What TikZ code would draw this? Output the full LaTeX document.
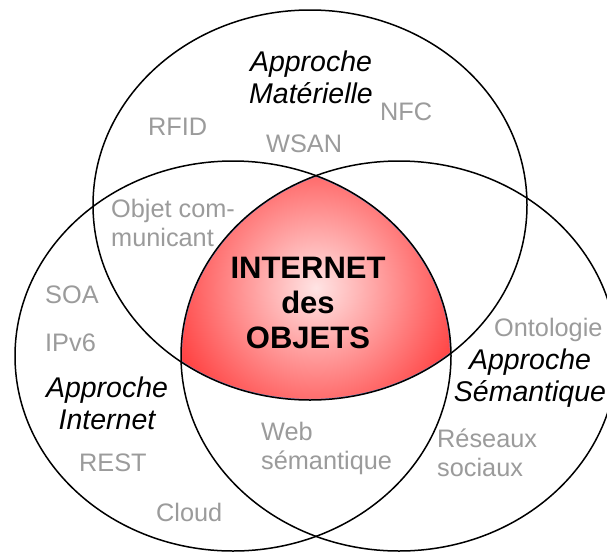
\documentclass[tikz,border=0pt]{standalone}
\usepackage{fontspec}
\setmainfont{Liberation Sans}
\definecolor{lbl}{RGB}{155,155,155}
\definecolor{iotred}{RGB}{255,8,8}
\definecolor{iotpink}{RGB}{255,228,228}
\definecolor{rimblue}{RGB}{120,145,205}
\begin{document}
\begin{tikzpicture}[x=1pt,y=-1pt,
  ring/.style={draw=black,line width=1.5pt},
  tech/.style={text=lbl,font=\fontsize{25.3}{28.5}\selectfont,inner sep=0pt,align=left},
  approach/.style={text=black,font=\fontsize{28.5}{31.5}\selectfont\itshape,inner sep=0pt,align=center},
  core/.style={text=black,font=\fontsize{31}{35}\selectfont\bfseries,inner sep=0pt,align=center}]
\useasboundingbox (0,0) rectangle (607,552);
\fill[white] (0,0) rectangle (607,552);
% central intersection
\begin{scope}
  \clip (310,205) ellipse [x radius=217pt, y radius=195pt];
  \clip (233,356) ellipse [x radius=218pt, y radius=195pt];
  \clip (399,356) ellipse [x radius=218pt, y radius=195pt];
  \fill[iotred] (150,150) rectangle (470,420);
  \shade[inner color=iotpink, outer color=iotred] (316,288) circle [radius=205pt];
  \draw[rimblue,line width=2.1pt] (310,205) ellipse [x radius=217pt, y radius=195pt];
  \draw[rimblue,line width=2.1pt] (233,356) ellipse [x radius=218pt, y radius=195pt];
  \draw[rimblue,line width=2.1pt] (399,356) ellipse [x radius=218pt, y radius=195pt];
\end{scope}
% the three approaches
\draw[ring] (310,205) ellipse [x radius=217pt, y radius=195pt];
\draw[ring] (233,356) ellipse [x radius=218pt, y radius=195pt];
\draw[ring] (399,356) ellipse [x radius=218pt, y radius=195pt];
% titles (base = baseline of last line)
\node[approach,anchor=base] (mat) at (311,103) {Approche\\Matérielle};
\node[approach,anchor=base] (int) at (107,429) {Approche\\Internet};
\node[approach,anchor=base] (sem) at (530,401) {Approche\\Sémantique};
\node[core,anchor=base] (iot) at (308,348) {INTERNET\\des\\OBJETS};
% technologies
\node[tech,anchor=base west] (nfc) at (380,120) {NFC};
\node[tech,anchor=base west] (rfid) at (148,135) {RFID};
\node[tech,anchor=base west] (wsan) at (266,152) {WSAN};
\node[tech,anchor=base west] (obj) at (111,246) {Objet com-\\municant};
\node[tech,anchor=base west] (soa) at (45,303) {SOA};
\node[tech,anchor=base west] (ipv) at (45,351) {IPv6};
\node[tech,anchor=base west] (rest) at (79,471) {REST};
\node[tech,anchor=base west] (cloud) at (156,521) {Cloud};
\node[tech,anchor=base west] (web) at (261,469) {Web\\sémantique};
\node[tech,anchor=base west] (onto) at (494,336) {Ontologie};
\node[tech,anchor=base west] (res) at (437,476) {Réseaux\\sociaux};
\end{tikzpicture}
\end{document}
